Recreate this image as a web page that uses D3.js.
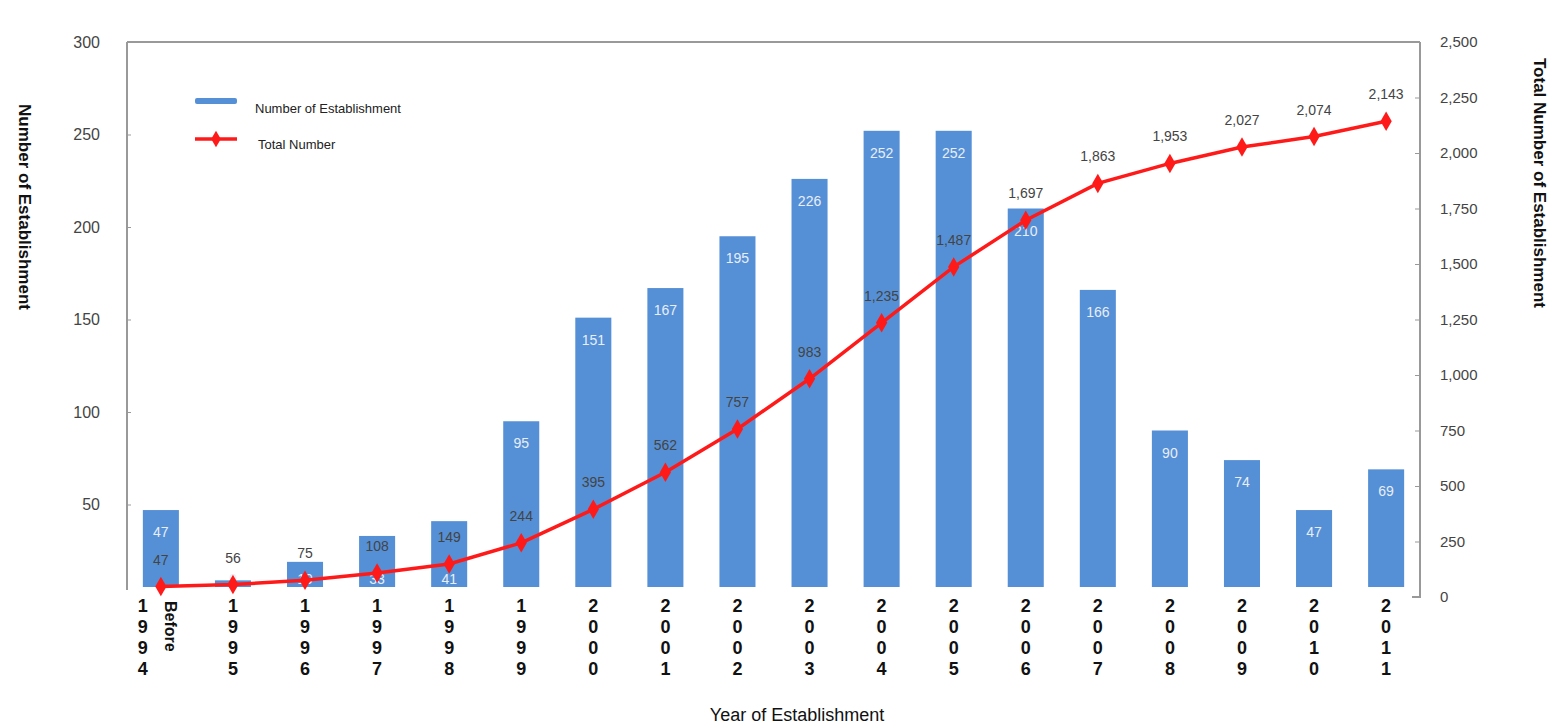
<!DOCTYPE html>
<html>
<head>
<meta charset="utf-8">
<script src="https://cdn.jsdelivr.net/npm/d3@7"></script>
<style>
  body { margin: 0; background: #fff; }
  svg { display: block; font-family: "Liberation Sans", Arial, sans-serif; }
</style>
</head>
<body>
<svg id="chart"></svg>
<script>
// data
const years = ["1994", "1995", "1996", "1997", "1998", "1999", "2000", "2001", "2002",
  "2003", "2004", "2005", "2006", "2007", "2008", "2009", "2010", "2011"];
const firstNote = "Before";
const established = [47, 9, 19, 33, 41, 95, 151, 167, 195, 226, 252, 252, 210, 166, 90, 74, 47, 69];
const totals = [47, 56, 75, 108, 149, 244, 395, 562, 757, 983, 1235, 1487, 1697, 1863, 1953, 2027, 2074, 2143];
const leftTicks = [50, 100, 150, 200, 250, 300];
const rightTicks = [0, 250, 500, 750, 1000, 1250, 1500, 1750, 2000, 2250, 2500];

const width = 1554, height = 728;
const svg = d3.select("#chart").attr("width", width).attr("height", height);

const plot = { left: 127, right: 1420, top: 42, bottom: 597 };
const barBase = plot.bottom - 10;
const barColor = "#5590d6";
const lineColor = "#ff1a1a";

// scales
const x = d3.scaleBand()
  .domain(years)
  .range([plot.left, plot.right])
  .paddingInner(0.5)
  .paddingOuter(0.22);

const yL = d3.scaleLinear().domain([0, 300]).range([plot.bottom, plot.top]);
const yR = d3.scaleLinear().domain([0, 2500]).range([plot.bottom, plot.top]);

// frame top
svg.append("line")
  .attr("x1", plot.left).attr("x2", plot.right)
  .attr("y1", plot.top).attr("y2", plot.top)
  .attr("stroke", "#999").attr("stroke-width", 2);

// left axis
const axL = svg.append("g")
  .attr("transform", `translate(${plot.left},0)`)
  .call(d3.axisLeft(yL).tickValues(leftTicks).tickSize(-4).tickPadding(27));
axL.select(".domain").attr("stroke", "#999").attr("stroke-width", 2)
  .attr("d", `M0,${plot.top}V${barBase + 3}`);
axL.selectAll(".tick line").attr("stroke", "#999");
axL.selectAll(".tick text").attr("fill", "#444").attr("font-size", 16);

// right axis
const axR = svg.append("g")
  .attr("transform", `translate(${plot.right},0)`)
  .call(d3.axisRight(yR).tickValues(rightTicks).tickFormat(d3.format(",")).tickSize(-5).tickPadding(20));
axR.select(".domain").attr("stroke", "#999").attr("stroke-width", 2)
  .attr("d", `M0,${plot.top}V${plot.bottom}H-8`);
axR.selectAll(".tick line").attr("stroke", "#999");
axR.selectAll(".tick text").attr("fill", "#444").attr("font-size", 15);

// bars
svg.append("g").selectAll("rect")
  .data(years)
  .join("rect")
    .attr("x", d => x(d))
    .attr("width", x.bandwidth())
    .attr("y", (d, i) => yL(established[i]))
    .attr("height", (d, i) => Math.max(0, barBase - yL(established[i])))
    .attr("fill", barColor);

// bar value labels: near bar top, dropped to the foot when they would hit the total label
const totalLabelY = i => yR(totals[i]) - 22;
const barLabelY = i => {
  let y = Math.min(yL(established[i]) + 27, barBase - 3);
  if (Math.abs(y - totalLabelY(i)) < 16) y = barBase - 3;
  return y;
};
svg.append("g").selectAll("text")
  .data(years)
  .join("text")
    .attr("x", d => x(d) + x.bandwidth() / 2)
    .attr("y", (d, i) => barLabelY(i))
    .attr("text-anchor", "middle")
    .attr("font-size", 14)
    .attr("fill", "#e8eef8")
    .text((d, i) => established[i]);

// cumulative line
const line = d3.line()
  .x((d, i) => x(years[i]) + x.bandwidth() / 2)
  .y(d => yR(d));

svg.append("path")
  .datum(totals)
  .attr("d", line)
  .attr("fill", "none")
  .attr("stroke", lineColor)
  .attr("stroke-width", 3.5);

const diamond = d3.symbol().type(d3.symbolDiamond).size(110);
svg.append("g").selectAll("path")
  .data(totals)
  .join("path")
    .attr("transform", (d, i) => `translate(${x(years[i]) + x.bandwidth() / 2},${yR(d)})`)
    .attr("d", diamond)
    .attr("fill", lineColor);

svg.append("g").selectAll("text")
  .data(totals)
  .join("text")
    .attr("x", (d, i) => x(years[i]) + x.bandwidth() / 2)
    .attr("y", (d, i) => totalLabelY(i))
    .attr("text-anchor", "middle")
    .attr("font-size", 14)
    .attr("fill", "#444")
    .text(d3.format(","));

// x labels: stacked digits
const xl = svg.append("g");
years.forEach((yr, i) => {
  const cx = x(yr) + x.bandwidth() / 2 - (i === 0 ? 18 : 0);
  yr.split("").forEach((ch, k) => {
    xl.append("text")
      .attr("x", cx)
      .attr("y", 612 + k * 21)
      .attr("text-anchor", "middle")
      .attr("font-size", 18)
      .attr("font-weight", "bold")
      .attr("fill", "#111")
      .text(ch);
  });
});
// "Before" note for the first category
xl.append("text")
  .attr("transform", `translate(${x(years[0]) + x.bandwidth() / 2 + 4},601) rotate(90)`)
  .attr("font-size", 16)
  .attr("font-weight", "bold")
  .attr("fill", "#111")
  .text(firstNote);

// axis titles
svg.append("text")
  .attr("x", 797).attr("y", 721)
  .attr("text-anchor", "middle")
  .attr("font-size", 18)
  .attr("fill", "#111")
  .text("Year of Establishment");

svg.append("text")
  .attr("transform", "translate(19,207) rotate(90)")
  .attr("text-anchor", "middle")
  .attr("font-size", 17)
  .attr("font-weight", "bold")
  .attr("fill", "#111")
  .text("Number of Establishment");

svg.append("text")
  .attr("transform", "translate(1534,183) rotate(90)")
  .attr("text-anchor", "middle")
  .attr("font-size", 17)
  .attr("font-weight", "bold")
  .attr("fill", "#111")
  .text("Total Number of Establishment");

// legend
const lg = svg.append("g");
lg.append("rect")
  .attr("x", 195).attr("y", 98).attr("width", 42).attr("height", 6)
  .attr("rx", 2).attr("fill", barColor);
lg.append("text")
  .attr("x", 255).attr("y", 113)
  .attr("font-size", 13).attr("fill", "#222")
  .text("Number of Establishment");
lg.append("line")
  .attr("x1", 195).attr("x2", 237).attr("y1", 139).attr("y2", 139)
  .attr("stroke", lineColor).attr("stroke-width", 3.5);
lg.append("path")
  .attr("transform", "translate(216,139)")
  .attr("d", d3.symbol().type(d3.symbolDiamond).size(80))
  .attr("fill", lineColor);
lg.append("text")
  .attr("x", 258).attr("y", 149)
  .attr("font-size", 13).attr("fill", "#222")
  .text("Total Number");
</script>
</body>
</html>
